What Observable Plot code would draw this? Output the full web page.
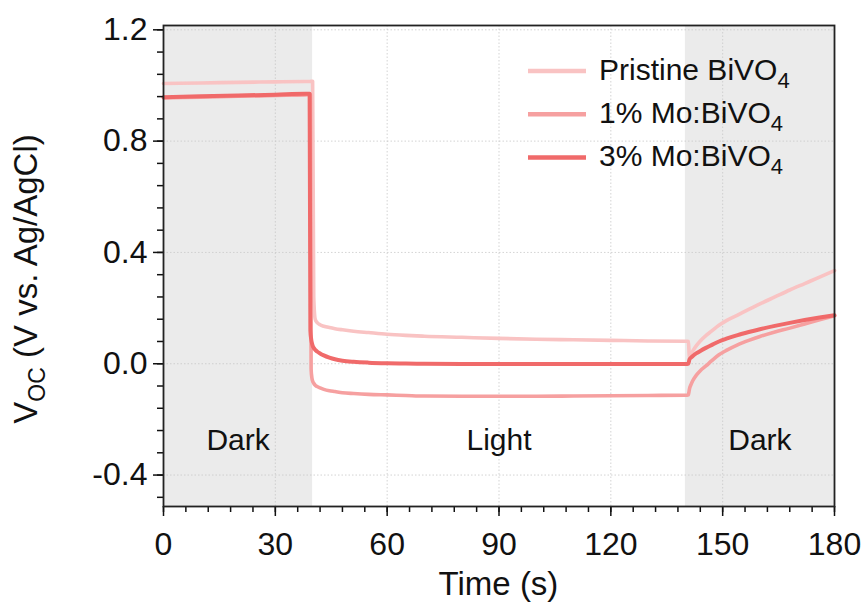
<!DOCTYPE html>
<html>
<head>
<meta charset="utf-8">
<script src="https://cdn.jsdelivr.net/npm/d3@7"></script>
<script src="https://cdn.jsdelivr.net/npm/@observablehq/plot@0.6"></script>
<style>
  html, body { margin: 0; padding: 0; background: #fff; }
  #chart { width: 865px; height: 603px; }
</style>
</head>
<body>
<div id="chart"></div>
<script>
// ---- data ----
const time = [0, 10, 20, 30, 38, 39.2, 39.4, 39.6, 39.8, 40.0, 40.3, 40.7, 41.2, 42, 43, 44.5, 46, 48, 51, 55, 60, 65, 70, 80, 90, 100, 110, 120, 130, 140, 140.5, 140.8, 141.1, 141.5, 142, 143, 144, 145.5, 147, 149, 151, 154, 157, 160, 164, 168, 172, 176, 180];
const pristine = [1.007, 1.009, 1.011, 1.013, 1.014, 1.014, 1.014, 1.015, 1.015, 1.015, 0.24, 0.16, 0.148, 0.14, 0.135, 0.13, 0.126, 0.122, 0.117, 0.112, 0.106, 0.102, 0.099, 0.095, 0.091, 0.088, 0.086, 0.084, 0.082, 0.081, 0.081, 0.080, 0.022, 0.034, 0.046, 0.066, 0.082, 0.101, 0.117, 0.138, 0.155, 0.175, 0.195, 0.215, 0.24, 0.265, 0.288, 0.311, 0.335];
const mo1 = [0.955, 0.958, 0.961, 0.964, 0.966, 0.967, 0.967, -0.02, -0.05, -0.062, -0.07, -0.077, -0.082, -0.087, -0.092, -0.097, -0.1, -0.104, -0.107, -0.11, -0.112, -0.114, -0.116, -0.117, -0.117, -0.117, -0.116, -0.115, -0.114, -0.113, -0.113, -0.112, -0.09, -0.075, -0.06, -0.04, -0.025, -0.008, 0.01, 0.032, 0.048, 0.068, 0.084, 0.098, 0.114, 0.128, 0.143, 0.158, 0.172];
const mo3 = [0.958, 0.961, 0.964, 0.967, 0.970, 0.970, 0.12, 0.09, 0.075, 0.065, 0.057, 0.05, 0.044, 0.037, 0.03, 0.022, 0.016, 0.011, 0.007, 0.004, 0.002, 0.001, 0.0, -0.001, -0.001, -0.001, -0.001, -0.001, -0.001, -0.001, -0.001, 0.0, 0.016, 0.022, 0.028, 0.038, 0.046, 0.057, 0.067, 0.08, 0.09, 0.103, 0.114, 0.124, 0.136, 0.147, 0.157, 0.166, 0.174];

const seriesNames = ["Pristine BiVO", "1% Mo:BiVO", "3% Mo:BiVO"];
const seriesSub = ["4", "4", "4"];
const seriesColors = ["#f9c3c3", "#f6a0a0", "#f06a6a"];
const seriesValues = [pristine, mo1, mo3];

const periodStart = [0, 40, 140];
const periodEnd = [40, 140, 180];
const periodLabel = ["Dark", "Light", "Dark"];
const periodDark = [true, false, true];
const periodLabelV = -0.275;

const xMajor = [0, 30, 60, 90, 120, 150, 180];
const xTickLabels = ["0", "30", "60", "90", "120", "150", "180"];
const yMajor = [-0.4, 0.0, 0.4, 0.8, 1.2];
const yTickLabels = ["-0.4", "0.0", "0.4", "0.8", "1.2"];
const xMinor = d3.range(0, 181, 6);
const yMinor = d3.range(-6, 16).map(k => +(k * 0.08).toFixed(2));

const xTitle = "Time (s)";

// ---- build tables ----
const rows = [];
seriesValues.forEach((vals, s) => {
  vals.forEach((v, i) => rows.push({series: s, t: time[i], v}));
});
const periods = periodStart.map((s, i) => ({x1: s, x2: periodEnd[i], label: periodLabel[i], dark: periodDark[i], xm: (s + periodEnd[i]) / 2, v: periodLabelV}));

const font = "'Liberation Sans', Arial, Helvetica, sans-serif";

const plot = Plot.plot({
  width: 865,
  height: 603,
  marginLeft: 163,
  marginRight: 31,
  marginTop: 25,
  marginBottom: 97,
  x: {domain: [0, 180]},
  y: {domain: [-0.513, 1.2155]},
  style: {fontFamily: font, background: "#fff", color: "#111"},
  marks: [
    Plot.rect(periods.filter(d => d.dark), {x1: "x1", x2: "x2", fill: "#ebebeb"}),
    Plot.gridX(xMajor, {stroke: "#c8c8c8", strokeOpacity: 0.8, strokeDasharray: "1.5,2"}),
    Plot.gridY(yMajor, {stroke: "#c8c8c8", strokeOpacity: 0.8, strokeDasharray: "1.5,2"}),
    ...seriesValues.map((_, s) => Plot.line(rows.filter(d => d.series === s), {
      x: "t", y: "v", stroke: seriesColors[s], strokeWidth: s === 2 ? 4 : 3.6,
      strokeLinejoin: "round", strokeLinecap: "round", curve: "monotone-x"
    })),
    Plot.text(periods, {x: "xm", y: "v", text: "label", fontSize: 30, fill: "#111"}),
    Plot.axisX(xMinor, {tickSize: 6, tickFormat: () => "", label: null, strokeWidth: 1.5}),
    Plot.axisY(yMinor, {tickSize: 6, tickFormat: () => "", label: null, strokeWidth: 1.5}),
    Plot.axisX(xMajor, {tickSize: 10, tickPadding: 16, fontSize: 32, label: null, strokeWidth: 1.5,
      tickFormat: d => xTickLabels[xMajor.indexOf(d)]}),
    Plot.axisY(yMajor, {tickSize: 10, tickPadding: 6, fontSize: 32, label: null, strokeWidth: 1.5,
      tickFormat: d => yTickLabels[yMajor.indexOf(d)]}),
    Plot.frame({stroke: "#222", strokeWidth: 1.8})
  ]
});

document.getElementById("chart").appendChild(plot);

// ---- titles & legend ----
const svg = d3.select(plot);

svg.append("text")
  .attr("x", 498.5).attr("y", 595)
  .attr("text-anchor", "middle")
  .attr("font-family", font).attr("font-size", 33).attr("fill", "#111")
  .text(xTitle);

const yl = svg.append("text")
  .attr("transform", "translate(37,279) rotate(-90)")
  .attr("text-anchor", "middle")
  .attr("font-family", font).attr("font-size", 33).attr("fill", "#111");
yl.append("tspan").text("V");
yl.append("tspan").attr("font-size", 23).attr("dy", 8).text("OC");
yl.append("tspan").attr("dy", -8).text(" (V vs. Ag/AgCl)");

const lg = svg.append("g");
seriesNames.forEach((name, i) => {
  const base = 80 + i * 43.2;
  lg.append("line")
    .attr("x1", 528).attr("x2", 586)
    .attr("y1", base - 9).attr("y2", base - 9)
    .attr("stroke", seriesColors[i]).attr("stroke-width", 4.5);
  const t = lg.append("text")
    .attr("x", 599).attr("y", base)
    .attr("text-anchor", "start")
    .attr("font-family", font).attr("font-size", 30).attr("fill", "#111");
  t.append("tspan").text(name);
  t.append("tspan").attr("font-size", 22).attr("dy", 7.5).text(seriesSub[i]);
});
</script>
</body>
</html>
